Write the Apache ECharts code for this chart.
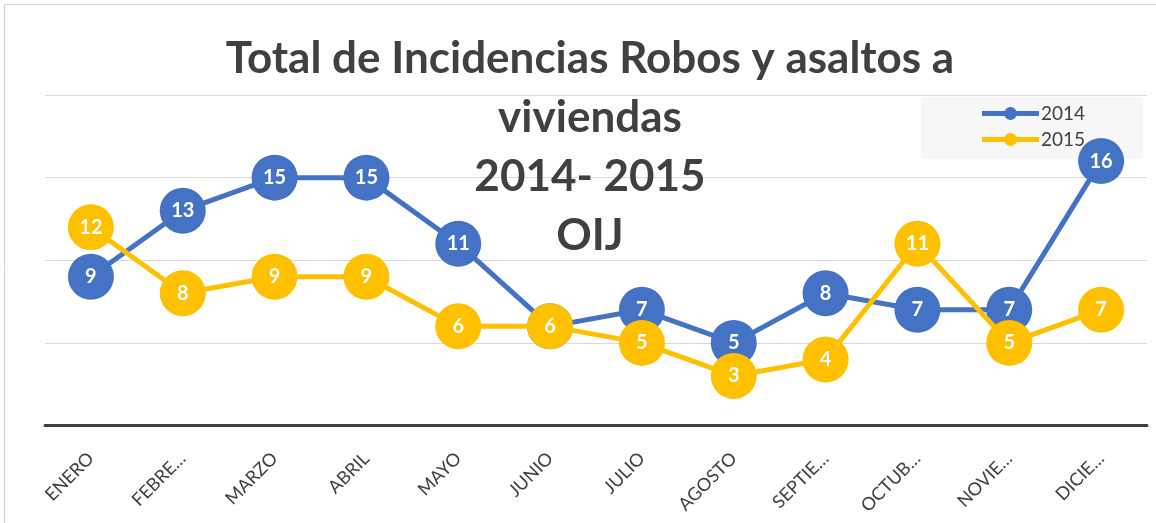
<!DOCTYPE html>
<html>
<head>
<meta charset="utf-8">
<script src="https://cdn.jsdelivr.net/npm/echarts@6/dist/echarts.min.js"></script>
<style>
  html, body { margin: 0; padding: 0; background: #fff; }
  #chart { width: 1156px; height: 523px; }
</style>
</head>
<body>
<div id="chart"></div>
<script>
  const months = ["ENERO", "FEBRE…", "MARZO", "ABRIL", "MAYO", "JUNIO", "JULIO", "AGOSTO", "SEPTIE…", "OCTUB…", "NOVIE…", "DICIE…"];
  const values2014 = [9, 13, 15, 15, 11, 6, 7, 5, 8, 7, 7, 16];
  const values2015 = [12, 8, 9, 9, 6, 6, 5, 3, 4, 11, 5, 7];

  const fontFamily = "Lato, 'Open Sans', sans-serif";
  const textColor = "#404040";
  // icono de leyenda: línea gruesa con un punto en el centro
  const legendIcon = "path://M0,4L57,4L57,9L0,9Z M22,6.5A6.5,6.5 0 1 1 35,6.5A6.5,6.5 0 1 1 22,6.5Z";

  const chart = echarts.init(document.getElementById("chart"));

  const makeSeries = (name, data, color, z) => ({
    name,
    type: "line",
    data,
    z,
    symbol: "circle",
    symbolSize: 46,
    lineStyle: { color, width: 5 },
    itemStyle: { color },
    label: {
      show: true,
      position: "inside",
      color: "#fff",
      fontFamily,
      fontWeight: "bold",
      fontSize: 20
    },
    emphasis: { disabled: true }
  });

  chart.setOption({
    animation: false,
    backgroundColor: "#fff",
    textStyle: { fontFamily, color: textColor },
    graphic: [
      {
        type: "rect",
        shape: { x: 4.5, y: 4.5, width: 1160, height: 530 },
        style: { fill: "none", stroke: "#d0d0d0", lineWidth: 1 },
        silent: true
      },
      {
        type: "rect",
        shape: { x: 921, y: 97, width: 222, height: 62 },
        style: { fill: "rgba(242,242,242,0.6)" },
        z: -1,
        silent: true
      }
    ],
    title: {
      text: "Total de Incidencias Robos y asaltos a\nviviendas\n2014- 2015\nOIJ",
      left: 585,
      textAlign: "center",
      top: 24,
      textStyle: {
        fontFamily,
        fontSize: 44,
        fontWeight: "bold",
        color: textColor,
        lineHeight: 59
      }
    },
    legend: {
      orient: "vertical",
      left: 977,
      top: 99,
      icon: legendIcon,
      itemWidth: 57,
      itemHeight: 13,
      itemGap: 7,
      textStyle: { fontFamily, fontSize: 19, color: textColor, padding: [0, 0, 0, -3] },
      data: ["2014", "2015"]
    },
    grid: { left: 45, right: 9, top: 95, bottom: 97.5 },
    xAxis: {
      type: "category",
      data: months,
      boundaryGap: true,
      axisLine: { lineStyle: { color: "#404040", width: 3 } },
      axisTick: { show: false },
      axisLabel: {
        rotate: 45,
        interval: 0,
        fontFamily,
        fontSize: 18,
        color: textColor,
        margin: 30
      }
    },
    yAxis: {
      type: "value",
      min: 0,
      max: 20,
      interval: 5,
      axisLabel: { show: false },
      axisLine: { show: false },
      axisTick: { show: false },
      splitLine: { lineStyle: { color: "#d9d9d9", width: 1 } }
    },
    series: [
      makeSeries("2014", values2014, "#4472C4", 2),
      makeSeries("2015", values2015, "#FFC000", 3)
    ]
  });
</script>
</body>
</html>
